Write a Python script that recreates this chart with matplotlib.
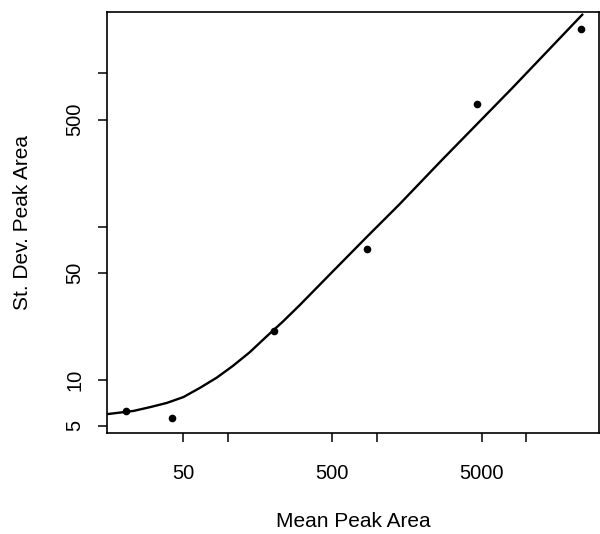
import matplotlib
matplotlib.use("Agg")
import matplotlib.pyplot as plt
from matplotlib.ticker import FixedLocator, FixedFormatter, NullLocator

# observed points (mean vs st. dev. of peak area)
mean_area = [20.9, 42.3, 203, 858, 4640, 23270]
sd_area = [6.24, 5.62, 20.8, 71.5, 634, 1960]

# fitted curve
curve_mean = [15.85, 23.3, 30.2, 39.0, 50.4, 65.1, 84.1, 108, 140, 181,
              234, 302, 450, 849, 1402, 2712, 8000, 23620]
curve_sd = [5.97, 6.25, 6.62, 7.05, 7.70, 8.85, 10.3, 12.3, 15.1, 19.1,
            24.0, 30.6, 45.5, 85.3, 139, 272, 800, 2420]

x_ticks = [50, 100, 500, 1000, 5000, 10000]
x_labels = ["50", "", "500", "", "5000", ""]
y_ticks = [5, 10, 50, 100, 500, 1000]
y_labels = ["5", "10", "50", "", "500", ""]

plt.rcParams["font.family"] = ["Liberation Sans", "DejaVu Sans"]

fig = plt.figure(figsize=(6.0, 5.34), dpi=100)
ax = fig.add_axes([0.179, 0.189, 0.819, 0.789])

ax.plot(curve_mean, curve_sd, color="black", lw=1.7,
        solid_joinstyle="round")
ax.plot(mean_area, sd_area, "o", color="black", ms=5.5, mew=0)

ax.set_xscale("log")
ax.set_yscale("log")
ax.set_xlim(15.6, 30500)
ax.set_ylim(4.48, 2530)

ax.xaxis.set_major_locator(FixedLocator(x_ticks))
ax.xaxis.set_major_formatter(FixedFormatter(x_labels))
ax.xaxis.set_minor_locator(NullLocator())
ax.yaxis.set_major_locator(FixedLocator(y_ticks))
ax.yaxis.set_major_formatter(FixedFormatter(y_labels))
ax.yaxis.set_minor_locator(NullLocator())

ax.tick_params(axis="both", direction="out", length=6.5, width=1.1,
               labelsize=14.5)
ax.tick_params(axis="x", pad=16)
ax.tick_params(axis="y", pad=10)
for lab in ax.get_yticklabels():
    lab.set_rotation(90)
    lab.set_va("center")
for sp in ax.spines.values():
    sp.set_linewidth(1.2)

ax.set_xlabel("Mean Peak Area", fontsize=15, labelpad=21)
ax.set_ylabel("St. Dev. Peak Area", fontsize=15, labelpad=24)

fig.savefig("out.png", dpi=100)
